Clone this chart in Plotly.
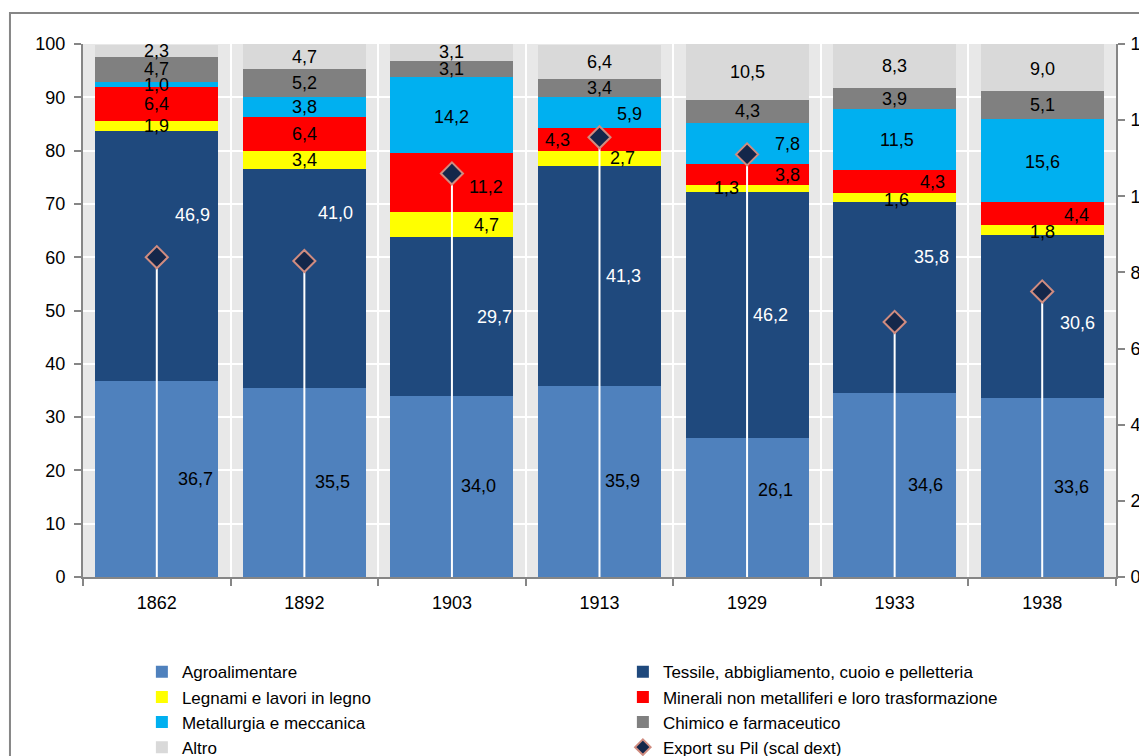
import plotly.graph_objects as go

# --- data -----------------------------------------------------------------
years = ["1862", "1892", "1903", "1913", "1929", "1933", "1938"]

agroalimentare = [36.7, 35.5, 34.0, 35.9, 26.1, 34.6, 33.6]
tessile = [46.9, 41.0, 29.7, 41.3, 46.2, 35.8, 30.6]
legnami = [1.9, 3.4, 4.7, 2.7, 1.3, 1.6, 1.8]
minerali = [6.4, 6.4, 11.2, 4.3, 3.8, 4.3, 4.4]
metallurgia = [1.0, 3.8, 14.2, 5.9, 7.8, 11.5, 15.6]
chimico = [4.7, 5.2, 3.1, 3.4, 4.3, 3.9, 5.1]
altro = [2.3, 4.7, 3.1, 6.4, 10.5, 8.3, 9.0]

export_su_pil = [8.4, 8.3, 10.6, 11.55, 11.1, 6.7, 7.5]

# --- style ------------------------------------------------------------------
FONT = "Liberation Sans Narrow, Arial Narrow, Liberation Sans, Arial, sans-serif"
AXIS_GRAY = "#868686"

series = [
    ("Agroalimentare", agroalimentare, "#4f81bd", "black"),
    ("Tessile, abbigliamento, cuoio e pelletteria", tessile, "#1f497d", "white"),
    ("Legnami e lavori in legno", legnami, "#ffff00", "black"),
    ("Minerali non metalliferi e loro trasformazione", minerali, "#ff0000", "black"),
    ("Metallurgia e meccanica", metallurgia, "#00b0f0", "black"),
    ("Chimico e farmaceutico", chimico, "#808080", "black"),
    ("Altro", altro, "#d9d9d9", "black"),
]

# label nudges in pixels (dx, dy) per series, per year -- mimics the hand-moved
# Excel labels of the original
label_dx = [
    [39, 28, 27, 23, 28, 31, 29],
    [36, 31, 43, 24, 23, 37, 35],
    [0, 0, 35, 23, -21, 2, 0],
    [0, 0, 34, -42, 40, 38, 34],
    [0, 0, 0, 30, 40, 2, 0],
    [0, 0, 0, 0, 0, 0, 0],
    [0, 0, 0, 0, 0, 0, 0],
]
label_dy = [
    [0, 0, 0, 0, 17, 0, 0],
    [41, 66, 0, 0, 0, 40, -7],
    [0, 0, 0, 0, 0, -2, -2],
    [0, 0, -4, 0, 0, 0, -2],
    [0, 0, -2, -2, 0, 0, -2],
    [0, 0, 0, 0, 0, 0, 0],
    [0, 0, 0, 0, 0, 0, -2],
]

fig = go.Figure()
annotations = []
base = [0.0] * len(years)

for i, (name, vals, color, txtcol) in enumerate(series):
    fig.add_trace(go.Bar(
        x=years, y=vals, name=name,
        marker=dict(color=color, line=dict(width=0)),
        hoverinfo="name+y",
    ))
    for j, v in enumerate(vals):
        # category axis: annotation x given as the category index
        annotations.append(dict(
            x=j, y=base[j] + v / 2, xref="x", yref="y",
            text=f"{v:.1f}".replace(".", ","), showarrow=False,
            xshift=label_dx[i][j], yshift=label_dy[i][j],
            font=dict(family=FONT, size=18, color=txtcol),
        ))
        base[j] += v

fig.add_trace(go.Scatter(
    x=years, y=export_su_pil, name="Export su Pil (scal dext)",
    yaxis="y2", mode="markers",
    marker=dict(symbol="diamond", size=17, color="#14274a",
                line=dict(color="#d08c80", width=2)),
    error_y=dict(type="data", symmetric=False,
                 array=[0] * len(export_su_pil), arrayminus=export_su_pil,
                 color="white", thickness=2, width=0),
))

# outer frame of the original chart area
fig.add_shape(type="rect", xref="paper", yref="paper",
              x0=-0.0707, x1=1.2, y0=-0.5, y1=1.058,
              line=dict(color=AXIS_GRAY, width=2), fillcolor="rgba(0,0,0,0)",
              layer="below")

# page body has an 8px margin, so the figure is 8px smaller than the window
fig.update_layout(
    width=1139, height=748,
    margin=dict(l=75, r=31, t=36, b=179, autoexpand=False),
    barmode="stack", bargap=0.167,
    paper_bgcolor="white", plot_bgcolor="#e8e8e8",
    font=dict(family=FONT, size=18, color="black"),
    annotations=annotations,
    showlegend=True,
    legend=dict(
        orientation="h", traceorder="normal", itemsizing="constant",
        x=0.057, xanchor="left", y=-0.145, yanchor="top",
        entrywidth=436, entrywidthmode="pixels", itemwidth=30,
        font=dict(family=FONT, size=17, color="black"),
        bgcolor="rgba(0,0,0,0)", tracegroupgap=0,
    ),
    xaxis=dict(
        type="category", range=[-0.5, len(years) - 0.5],
        tickson="boundaries", ticks="outside", ticklen=7,
        tickcolor=AXIS_GRAY, tickwidth=2, ticklabelstandoff=8,
        showline=True, linecolor=AXIS_GRAY, linewidth=2,
        showgrid=True, gridcolor="white", gridwidth=2,
        automargin=False, tickfont=dict(size=18),
    ),
    yaxis=dict(
        range=[0, 100], dtick=10, ticks="outside", ticklen=7,
        tickcolor=AXIS_GRAY, tickwidth=2, ticklabelstandoff=5,
        showline=True, linecolor=AXIS_GRAY, linewidth=2,
        showgrid=True, gridcolor="white", gridwidth=2,
        zeroline=False, automargin=False, tickfont=dict(size=18),
    ),
    yaxis2=dict(
        range=[0, 14], dtick=2, overlaying="y", side="right",
        ticks="outside", ticklen=7, tickcolor=AXIS_GRAY, tickwidth=2,
        ticklabelstandoff=2,
        showline=True, linecolor=AXIS_GRAY, linewidth=2,
        showgrid=False, zeroline=False, automargin=False,
        tickfont=dict(size=18),
    ),
)

fig.write_html("out.html")
